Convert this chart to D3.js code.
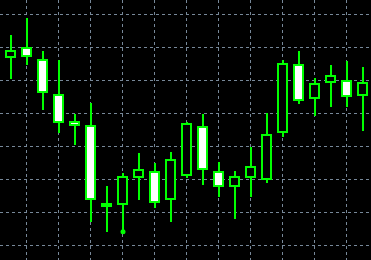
<!DOCTYPE html>
<html>
<head>
<meta charset="utf-8">
<script src="https://cdn.jsdelivr.net/npm/d3@7"></script>
<style>
  html, body { margin: 0; padding: 0; background: #000; }
  svg { display: block; }
</style>
</head>
<body>
<svg id="chart" width="371" height="260"></svg>
<script>
// ---- data ----
const opens  = [86.88, 90.21, 86.58, 75.97, 67.79, 66.58, 42.94, 42.33, 50.52, 52.64, 43.85, 51.12, 66.27, 52.64, 47.79, 50.52, 49.91, 64.15, 85.06, 74.33, 79.30, 80.21, 75.30];
const highs  = [93.64, 98.79, 88.79, 86.36, 69.91, 73.33, 47.88, 52.03, 58.18, 54.85, 58.48, 67.36, 69.70, 55.45, 52.64, 59.79, 70.30, 86.27, 88.79, 80.82, 84.55, 85.76, 84.24];
const lows   = [80.39, 84.64, 71.00, 63.94, 60.39, 37.06, 34.03, 34.55, 43.73, 41.30, 37.06, 50.39, 48.27, 44.64, 37.97, 44.76, 49.00, 62.82, 72.82, 69.39, 71.91, 72.12, 64.55];
const closes = [89.30, 87.18, 76.27, 67.18, 66.15, 43.85, 41.91, 51.12, 53.24, 42.94, 56.27, 67.18, 52.94, 47.79, 51.12, 54.15, 63.85, 85.36, 73.85, 79.30, 81.73, 74.94, 79.64];
const gridPrices = [100, 90, 80, 70, 60, 50, 40, 30];
const gridBars = [1, 3, 5, 7, 9, 11, 13, 15, 17, 19, 21];
const markerIdx = [7];
const markerVal = [34.15];

// ---- layout ----
const W = 371, H = 260;
const svg = d3.select("#chart");
svg.append("rect").attr("width", W).attr("height", H).attr("fill", "#000");

const x = d3.scaleLinear().domain([0, opens.length - 1]).range([11, 363]);
const y = d3.scaleLinear().domain([25.606, 104.394]).range([H, 0]);

// grid
const grid = svg.append("g").attr("stroke", "#778899").attr("stroke-width", 1)
  .attr("stroke-dasharray", "3,3").attr("shape-rendering", "crispEdges");
grid.selectAll("line.h").data(gridPrices).join("line").attr("class", "h")
  .attr("x1", 0).attr("x2", W)
  .attr("y1", d => Math.floor(y(d)) + 0.5).attr("y2", d => Math.floor(y(d)) + 0.5);
grid.selectAll("line.v").data(gridBars).join("line").attr("class", "v")
  .attr("y1", 0).attr("y2", H)
  .attr("x1", d => Math.round(x(d)) - 0.5).attr("x2", d => Math.round(x(d)) - 0.5);

const data = opens.map((o, i) => ({ i, o, h: highs[i], l: lows[i], c: closes[i] }));
const green = "#00ff00";

// wicks
svg.append("g").selectAll("line").data(data).join("line")
  .attr("x1", d => x(d.i)).attr("x2", d => x(d.i))
  .attr("y1", d => Math.round(y(d.h))).attr("y2", d => Math.round(y(d.l)))
  .attr("stroke", green).attr("stroke-width", 2);

// bodies
svg.append("g").selectAll("rect").data(data).join("rect")
  .attr("x", d => x(d.i) - 5)
  .attr("width", 9)
  .attr("y", d => Math.round(y(Math.max(d.o, d.c))) + 1)
  .attr("height", d => Math.max(2, Math.round(Math.abs(y(d.o) - y(d.c))) - 2))
  .attr("fill", d => d.c < d.o ? "#ffffff" : "#000000")
  .attr("stroke", green).attr("stroke-width", 2);

// marker
svg.append("g").selectAll("circle").data(markerIdx).join("circle")
  .attr("cx", (d) => x(d))
  .attr("cy", (d, k) => y(markerVal[k]))
  .attr("r", 2.5)
  .attr("fill", green);
</script>
</body>
</html>
